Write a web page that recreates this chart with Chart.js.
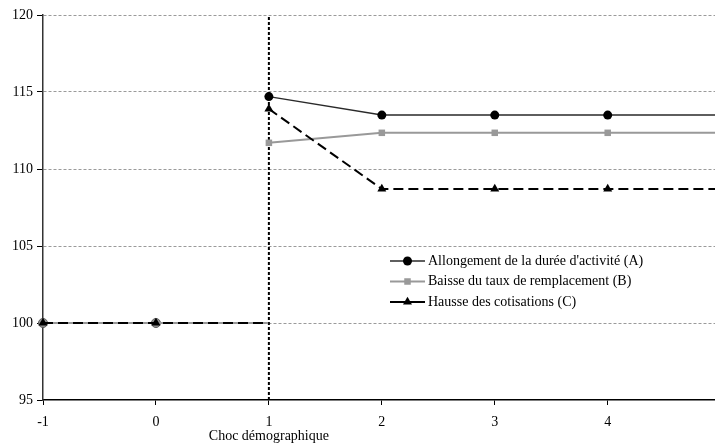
<!DOCTYPE html>
<html>
<head>
<meta charset="utf-8">
<script src="https://cdn.jsdelivr.net/npm/chart.js@4.4.0/dist/chart.umd.min.js"></script>
<style>
  html, body { margin: 0; padding: 0; background: #fff; }
  #wrap { width: 715px; height: 443px; }
</style>
</head>
<body>
<div id="wrap"><canvas id="graphique" width="715" height="443"></canvas></div>
<script>
// Periodes (la periode 1 est repetee pour couper la ligne au moment du choc)
const periodes = [-1, 0, 1, 1, 1, 2, 3, 4, 4.95];
const allongement = [100, 100, 100, null, 114.7, 113.5, 113.5, 113.5, 113.5];
const baisseTaux = [100, 100, 100, null, 111.7, 112.35, 112.35, 112.35, 112.35];
const hausseCotis = [100, 100, 100, null, 113.9, 108.7, 108.7, 108.7, 108.7];
const marqueurs = [1, 1, 0, 0, 1, 1, 1, 1, 0];
const xTicks = [-1, 0, 1, 2, 3, 4];
const yTicks = [95, 100, 105, 110, 115, 120];
const periodeChoc = 1;
const titreX = "Choc démographique";
const libelles = [
  "Allongement de la durée d'activité (A)",
  "Baisse du taux de remplacement (B)",
  "Hausse des cotisations (C)"
];

const police = { family: "'Liberation Serif', 'Times New Roman', serif", size: 14 };

function points(valeurs) {
  return periodes.map((x, i) => ({ x: x, y: valeurs[i] }));
}
function rayons(r) {
  return marqueurs.map((m) => (m ? r : 0));
}

// Legende dessinee dans la zone du graphique
const legendeInterne = {
  id: "legendeInterne",
  afterDatasetsDraw(chart) {
    const ctx = chart.ctx;
    const series = chart.data.datasets.filter((d) => d.label);
    ctx.save();
    series.forEach((d, i) => {
      const y = 261 + i * 20.5;
      ctx.setLineDash([]);
      ctx.strokeStyle = d.borderColor;
      ctx.lineWidth = d.borderWidth;
      ctx.beginPath();
      ctx.moveTo(390, y);
      ctx.lineTo(425, y);
      ctx.stroke();
      ctx.fillStyle = d.legendColor;
      Chart.helpers.drawPoint(ctx, { pointStyle: d.pointStyle, radius: d.legendRadius, rotation: 0, borderWidth: 0 }, 407.5, y);
      ctx.fillStyle = "#000";
      ctx.font = "14px 'Liberation Serif', serif";
      ctx.textAlign = "left";
      ctx.textBaseline = "middle";
      ctx.fillText(d.label, 428, y);
    });
    // titre de l'axe, sous la periode du choc
    const xPix = chart.scales.x.getPixelForValue(periodeChoc);
    ctx.textAlign = "center";
    ctx.fillText(titreX, xPix, 436);
    ctx.restore();
  }
};

new Chart(document.getElementById("graphique"), {
  type: "line",
  data: {
    datasets: [
      {
        label: libelles[0],
        data: points(allongement),
        borderColor: "#2a2a2a",
        borderWidth: 1.5,
        pointStyle: "circle",
        pointRadius: rayons(4.5),
        legendRadius: 4.5,
        legendColor: "#000",
        // avant le choc les cercles apparaissent gris sous les autres marqueurs
        pointBackgroundColor: periodes.map((x) => (x < periodeChoc ? "#8f8f8f" : "#000")),
        pointBorderColor: "#555",
        pointBorderWidth: periodes.map((x) => (x < periodeChoc ? 1 : 0)),
        clip: false,
        order: 3
      },
      {
        label: libelles[1],
        data: points(baisseTaux),
        borderColor: "#999999",
        borderWidth: 2,
        pointStyle: "rect",
        pointRadius: rayons(4.6),
        legendRadius: 4.6,
        legendColor: "#999999",
        pointBackgroundColor: "#999999",
        pointBorderWidth: 0,
        clip: false,
        order: 2
      },
      {
        label: libelles[2],
        data: points(hausseCotis),
        borderColor: "#000",
        borderWidth: 2,
        borderDash: [10, 5],
        pointStyle: "triangle",
        pointRadius: rayons(5.2),
        legendRadius: 5.2,
        legendColor: "#000",
        pointBackgroundColor: "#000",
        pointBorderWidth: 0,
        clip: false,
        order: 1
      },
      {
        data: [{ x: periodeChoc, y: yTicks[0] }, { x: periodeChoc, y: yTicks[yTicks.length - 1] }],
        borderColor: "#000",
        borderWidth: 2,
        borderDash: [3, 2],
        pointRadius: 0,
        order: 4
      }
    ]
  },
  options: {
    responsive: false,
    animation: false,
    devicePixelRatio: 1,
    layout: { autoPadding: false, padding: { top: 15, right: 0, left: 0, bottom: 0 } },
    plugins: {
      legend: { display: false },
      tooltip: { enabled: false }
    },
    scales: {
      x: {
        type: "linear",
        min: -1,
        max: 4.95,
        afterBuildTicks: (s) => { s.ticks = xTicks.map((v) => ({ value: v })); },
        afterFit: (s) => { s.height = 43; s.paddingRight = 0; s.paddingLeft = 0; },
        grid: { drawOnChartArea: false, drawTicks: true, tickLength: 5, tickColor: "#000", tickWidth: 1 },
        border: { color: "#000", width: 1.5 },
        ticks: { color: "#000", font: police, padding: 9, maxRotation: 0, autoSkip: false }
      },
      y: {
        min: 95,
        max: 120,
        afterBuildTicks: (s) => { s.ticks = yTicks.map((v) => ({ value: v })); },
        afterFit: (s) => { s.width = 43; },
        grid: {
          color: (c) => (c.tick && c.tick.value === 95 ? "rgba(0,0,0,0)" : "#9a9a9a"),
          lineWidth: 1,
          tickLength: 6,
          tickColor: "#000",
          tickBorderDash: []
        },
        border: { color: "#333", width: 1.5, dash: [3, 2] },
        ticks: { color: "#000", font: police, padding: 4 }
      }
    }
  },
  plugins: [legendeInterne]
});
</script>
</body>
</html>
